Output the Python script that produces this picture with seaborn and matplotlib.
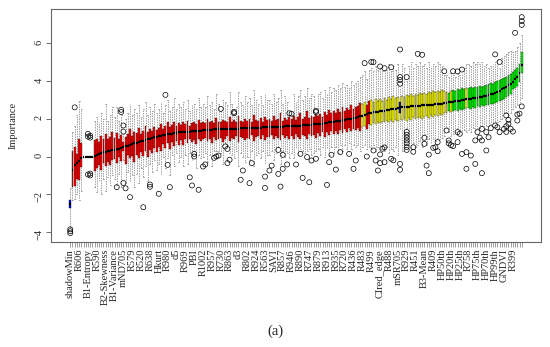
import numpy as np
import pandas as pd
import matplotlib
matplotlib.use("Agg")
import matplotlib.pyplot as plt
import seaborn as sns

# Boruta importance per feature (sorted by median)
med = [-2.5,
       -0.7, -0.45, -0.35, -0.25, -0.1,
       0, 0, 0, 0, 0,
       0.05, 0.1, 0.14, 0.18, 0.22, 0.25, 0.28, 0.31, 0.34,
       0.36, 0.38, 0.42, 0.46, 0.5, 0.54, 0.58, 0.62, 0.66, 0.7,
       0.73, 0.76, 0.8, 0.84, 0.88, 0.91, 0.95, 0.98, 1.01, 1.04,
       1.07, 1.1, 1.13, 1.15, 1.17, 1.19, 1.21, 1.23, 1.25, 1.27,
       1.28, 1.29, 1.3, 1.31, 1.32, 1.33, 1.34, 1.35, 1.36, 1.37,
       1.38, 1.39, 1.4, 1.41, 1.42, 1.43, 1.43, 1.44, 1.44, 1.45,
       1.45, 1.46, 1.46, 1.47, 1.47, 1.48, 1.48, 1.49, 1.49, 1.5,
       1.5, 1.51, 1.51, 1.52, 1.52, 1.53, 1.53, 1.54, 1.54, 1.55,
       1.55, 1.56, 1.56, 1.57, 1.57, 1.58, 1.58, 1.59, 1.6, 1.6,
       1.61, 1.62, 1.62, 1.63, 1.64, 1.65, 1.66, 1.67, 1.68, 1.69,
       1.7, 1.71, 1.72, 1.73, 1.74, 1.76, 1.78, 1.8, 1.82, 1.84,
       1.86, 1.88, 1.9, 1.92, 1.94, 1.96, 1.98, 2.0, 2.02, 2.05,
       2.08, 2.12, 2.16, 2.2, 2.24, 2.28, 2.31, 2.33, 2.35, 2.37,
       2.39, 2.41, 2.43, 2.45, 2.47, 2.49, 2.51, 2.53, 2.55, 2.6,
       2.61, 2.62, 2.63, 2.64, 2.65, 2.66, 2.67, 2.68, 2.69, 2.7,
       2.71, 2.72, 2.73, 2.74, 2.75, 2.76, 2.77, 2.78, 2.8, 2.82,
       2.84, 2.86, 2.88, 2.9, 2.92, 2.94, 2.96, 2.98, 3.0, 3.02,
       3.04, 3.06, 3.08, 3.1, 3.12, 3.14, 3.16, 3.18, 3.21, 3.24,
       3.28, 3.32, 3.37, 3.42, 3.48, 3.55, 3.62, 3.7, 3.78, 3.86,
       3.96, 4.08, 4.22, 4.4, 4.85]

q1 = [-2.72,
      -1.6, -1.55, -1.2, -1.25, -0.55,
      0, 0, 0, 0, 0,
      -0.75, -0.6, -0.45, -0.7, -0.35, -0.5, -0.3, -0.45, -0.2,
      -0.15, -0.35, 0.0, -0.25, 0.3, -0.4, 0.1, -0.1, 0.05, -0.3,
      0.1, -0.1, 0.25, 0.05, 0.3, -0.05, 0.35, 0.2, 0.45, 0.25,
      0.5, 0.3, 0.65, 0.45, 0.7, 0.4, 0.75, 0.55, 0.8, 0.6,
      0.85, 0.6, 0.9, 0.7, 0.95, 0.75, 0.85, 0.65, 0.9, 0.8,
      0.9, 1.0, 0.8, 0.95, 0.7, 1.05, 0.85, 0.95, 1.0, 0.75,
      0.95, 1.1, 0.8, 1.0, 0.9, 1.1, 0.75, 1.05, 1.0, 0.85,
      1.0, 0.9, 1.15, 0.8, 1.05, 1.1, 0.95, 1.15, 0.85, 1.05,
      1.05, 1.15, 0.9, 1.1, 1.0, 0.85, 1.15, 1.0, 1.1, 0.95,
      1.1, 0.95, 1.2, 1.05, 0.9, 1.15, 1.1, 0.95, 1.2, 1.1,
      1.15, 1.0, 1.25, 1.1, 1.3, 1.05, 1.3, 1.15, 1.35, 1.2,
      1.35, 1.2, 1.4, 1.25, 1.45, 1.3, 1.5, 1.35, 1.45, 1.4,
      1.5, 1.35, 1.55, 1.6, 1.45, 1.7, 1.65, 1.75, 1.7, 1.8,
      1.75, 1.85, 1.8, 1.9, 1.8, 1.95, 1.85, 1.95, 1.9, 2.3,
      1.95, 2.0, 1.9, 2.05, 1.95, 2.1, 2.0, 2.05, 2.1, 2.0,
      2.1, 2.15, 2.05, 2.2, 2.1, 2.2, 2.15, 2.25, 2.2, 2.3,
      2.3, 2.4, 2.35, 2.4, 2.45, 2.4, 2.5, 2.45, 2.5, 2.55,
      2.55, 2.5, 2.6, 2.55, 2.65, 2.6, 2.7, 2.65, 2.7, 2.75,
      2.8, 2.8, 2.85, 2.9, 2.95, 3.0, 3.05, 3.15, 3.2, 3.3,
      3.55, 3.6, 3.75, 3.95, 4.4]

q3 = [-2.3,
      0.3, 0.5, 0.15, 0.9, 0.7,
      0, 0, 0, 0, 0,
      0.85, 0.9, 0.75, 1.1, 0.95, 1.2, 0.9, 1.05, 1.3,
      1.0, 1.25, 0.95, 1.15, 0.75, 1.05, 1.2, 1.45, 1.1, 1.3,
      1.25, 1.5, 1.2, 1.35, 1.6, 1.3, 1.45, 1.35, 1.55, 1.4,
      1.5, 1.7, 1.45, 1.6, 1.8, 1.55, 1.65, 1.85, 1.6, 1.75,
      1.65, 1.8, 1.7, 1.9, 1.6, 1.75, 1.85, 1.7, 1.95, 1.75,
      1.85, 1.75, 2.0, 1.8, 1.9, 1.75, 2.05, 1.85, 1.8, 1.95,
      1.9, 1.8, 2.1, 1.85, 1.95, 1.8, 2.15, 1.9, 1.85, 2.0,
      1.9, 2.0, 1.85, 2.2, 1.95, 1.9, 2.05, 1.85, 2.1, 1.95,
      2.0, 1.9, 2.15, 1.95, 2.0, 2.3, 1.9, 2.05, 1.95, 2.1,
      2.0, 2.15, 1.95, 2.1, 2.3, 2.0, 2.1, 2.4, 2.05, 2.15,
      2.1, 2.2, 2.15, 2.25, 2.1, 2.35, 2.2, 2.45, 2.3, 2.4,
      2.3, 2.5, 2.35, 2.6, 2.4, 2.55, 2.45, 2.7, 2.5, 2.6,
      2.65, 2.85, 2.8, 2.9, 2.75, 2.95, 3.0, 2.9, 3.05, 2.95,
      3.05, 2.95, 3.1, 3.0, 3.15, 3.05, 3.2, 3.1, 3.15, 2.9,
      3.2, 3.15, 3.25, 3.2, 3.3, 3.2, 3.3, 3.25, 3.35, 3.3,
      3.35, 3.3, 3.4, 3.35, 3.45, 3.4, 3.45, 3.4, 3.5, 3.45,
      3.4, 3.35, 3.45, 3.5, 3.45, 3.55, 3.5, 3.6, 3.55, 3.6,
      3.6, 3.65, 3.6, 3.7, 3.65, 3.75, 3.7, 3.75, 3.8, 3.85,
      3.9, 3.85, 3.95, 4.0, 4.05, 4.1, 4.15, 4.2, 4.3, 4.35,
      4.45, 4.55, 4.7, 4.9, 5.5]

lo = [-3.75,
      -2.3, -2.25, -2.0, -2.3, -1.8,
      0, 0, 0, 0, 0,
      -1.6, -1.9, -1.3, -2.0, -1.2, -1.8, -1.1, -1.5, -1.0,
      -1.2, -1.5, -0.9, -1.6, -0.2, -1.4, -0.8, -1.3, -1.0, -1.6,
      -0.9, -1.4, -0.6, -1.1, -0.5, -1.3, -0.4, -0.8, -0.2, -0.7,
      -0.4, -0.9, 0.0, -0.6, -0.1, -1.0, 0.1, -0.5, 0.2, -0.3,
      0.0, -0.5, 0.1, -0.4, 0.2, -0.2, 0.3, -0.6, 0.1, -0.1,
      0.0, 0.2, -0.3, 0.1, -0.5, 0.3, 0.3, 0.3, 0.2, -0.4,
      0.7, 0.6, 0.2, 0.1, -0.1, 0.3, -0.5, 0.2, 0.0, -0.3,
      0.0, -0.2, 0.3, -0.5, 0.1, 0.2, -0.1, 0.3, -0.4, 0.1,
      0.1, 0.3, -0.2, 0.2, 0.5, -0.4, 0.3, 0.0, 0.2, -0.1,
      0.2, -0.1, 0.4, 0.1, 0.4, 0.3, 0.2, 0.3, 0.4, 0.1,
      0.2, 0.3, 0.4, 0.1, 0.5, 0.0, 0.4, 0.1, 0.5, 0.2,
      0.5, 0.2, 0.6, 0.3, 0.6, 0.4, 0.7, 0.4, 0.6, 0.5,
      0.6, 0.3, 0.5, 0.6, 0.4, 0.5, 0.4, 0.6, 0.3, 0.5,
      0.4, 0.6, 0.3, 0.5, 0.2, 0.4, 0.3, 0.5, 0.1, 1.4,
      0.3, 0.5, 1.5, 0.6, 0.4, 0.7, 0.5, 0.6, 0.8, 0.5,
      1.2, 0.6, 0.9, 0.7, 0.9, 0.8, 1.0, 0.9, 1.0, 1.1,
      1.5, 1.3, 1.1, 1.2, 1.3, 1.5, 1.4, 1.3, 1.4, 1.3,
      1.4, 1.3, 1.5, 1.4, 1.5, 1.5, 1.6, 1.5, 1.6, 1.6,
      1.7, 1.7, 1.8, 1.8, 1.9, 2.0, 2.3, 2.3, 2.2, 2.3,
      2.5, 2.6, 2.7, 2.8, 3.1]

hi = [-1.65,
      1.3, 1.6, 2.2, 2.95, 2.5,
      0, 0, 0, 0, 0,
      1.9, 2.1, 1.8, 2.3, 2.0, 2.8, 1.9, 2.2, 2.6,
      2.1, 2.6, 1.9, 2.2, 1.2, 2.0, 2.3, 2.8, 2.2, 2.5,
      2.3, 2.7, 2.1, 2.5, 2.9, 2.2, 2.6, 2.4, 2.8, 2.3,
      2.5, 2.9, 2.3, 2.7, 3.0, 2.4, 2.6, 3.1, 2.5, 2.8,
      2.6, 2.9, 2.5, 3.0, 2.4, 2.7, 2.8, 2.5, 3.1, 2.6,
      2.8, 2.6, 3.2, 2.7, 2.9, 2.5, 3.3, 2.8, 2.4, 3.0,
      2.9, 2.7, 3.4, 2.8, 2.2, 2.6, 3.4, 2.9, 2.7, 3.2,
      2.9, 3.1, 2.7, 3.5, 3.0, 2.8, 3.2, 2.7, 3.3, 3.0,
      3.0, 2.8, 3.3, 2.9, 3.1, 3.5, 2.8, 3.2, 2.9, 2.2,
      2.2, 3.3, 2.9, 3.2, 3.5, 3.0, 3.2, 3.6, 3.1, 3.3,
      3.2, 2.3, 3.3, 3.4, 3.1, 3.5, 3.3, 3.7, 3.4, 3.6,
      3.5, 3.8, 3.6, 3.9, 3.7, 3.8, 3.6, 4.0, 3.8, 3.9,
      4.0, 4.2, 4.3, 4.5, 4.1, 4.6, 4.7, 4.5, 4.8, 4.6,
      4.7, 4.5, 4.5, 4.6, 4.9, 4.5, 4.8, 4.6, 4.9, 3.7,
      4.9, 4.7, 4.0, 4.8, 5.0, 4.7, 4.9, 4.8, 5.0, 4.8,
      4.9, 4.7, 5.0, 4.8, 4.9, 4.8, 5.0, 4.9, 4.8, 4.3,
      4.3, 4.2, 4.4, 4.3, 4.2, 4.4, 4.3, 4.4, 4.7, 4.9,
      4.9, 4.8, 5.0, 4.9, 5.0, 4.9, 5.0, 4.8, 4.9, 4.7,
      4.8, 4.9, 5.0, 5.1, 4.7, 5.2, 5.3, 5.4, 5.5, 5.6,
      5.5, 5.6, 5.8, 6.0, 6.4]

# Boruta decision, as runs along the sorted features
decision_runs = [("Shadow", 1), ("Rejected", 131), ("Tentative", 2), ("Rejected", 2),
                 ("Tentative", 13), ("Shadow", 1), ("Tentative", 21), ("Confirmed", 1),
                 ("Tentative", 1), ("Confirmed", 6), ("Tentative", 1), ("Confirmed", 25)]

# outliers: (feature number, importance)
outliers = [(1, -3.85), (1, -3.95), (1, -4.05), (3, 2.6),
            (9, 1.05), (9, 1.2), (10, 1.1), (10, 1.0), (9, -0.95), (10, -1.0), (10, -0.9),
            (22, -1.62), (24, 2.47), (24, 2.35), (25, 1.32), (25, 1.64), (25, -1.4), (26, -1.68),
            (28, -2.15), (34, -2.68), (37, -1.48), (37, -1.6), (41, -1.97), (44, 3.26), (45, -0.44),
            (46, -1.62), (55, -1.1), (56, -1.53), (57, 0.14), (57, 0.0), (59, -1.76), (61, -0.53),
            (62, -0.42), (66, -0.07), (67, 0.0), (68, 0.05),
            (69, 2.52), (75, 2.29), (75, 2.36), (71, 0.53), (72, 0.4), (73, -0.17), (72, -0.35),
            (79, -0.74), (78, -1.23), (82, -1.41), (83, -0.35), (89, -1.66), (89, -1.06), (91, -0.74),
            (92, -0.48), (95, 0.35), (97, 0.09), (96, -1.59), (95, -0.92), (97, -0.65), (99, -0.42),
            (101, 2.26), (100, 2.29), (103, -0.42), (105, 0.14), (106, -1.13), (108, -0.03),
            (109, -1.36), (110, -0.21), (112, 2.35), (112, 2.42), (112, -0.12), (117, -1.5),
            (118, -0.3), (119, 0.09), (121, -0.69), (123, 0.23), (127, 0.14), (129, -0.65), (130, -0.21),
            (134, 4.94), (138, 4.99), (135, 0.0), (140, -0.74), (139, -0.21), (138, 0.32), (137, 5.0),
            (141, 4.76), (143, 4.67), (146, 4.72), (150, 5.66), (150, 4.2), (150, 4.05), (150, 3.85),
            (153, 4.2), (158, 5.43), (160, 5.38),
            (142, 0.41), (141, 0.11), (143, -0.3), (143, 0.48), (141, -0.35), (146, -0.12), (147, -0.2),
            (150, -0.39), (150, -0.7),
            (153, 1.3), (153, 1.15), (153, 1.0), (153, 0.85), (153, 0.7), (153, 0.5), (153, 0.35),
            (156, 0.49), (156, 0.25), (161, 0.99), (161, 0.67), (162, -0.48), (163, 0.1), (163, -0.88),
            (165, 0.46), (166, 0.49), (167, 0.76), (167, 0.28),
            (170, 4.51), (174, 4.51), (176, 4.5), (178, 4.6),
            (171, 1.38), (172, 0.85), (172, 0.7), (173, 0.6), (174, 0.55), (176, 1.29), (176, 0.76),
            (177, 1.2), (178, 0.14), (180, 0.23), (180, -0.65), (182, 0.05), (184, -0.39), (187, -0.88),
            (184, 0.85), (185, 1.29), (186, 1.0), (187, 0.85), (187, 1.46), (189, 0.32), (189, 1.29),
            (190, 1.02), (191, 1.5), (193, 1.64), (194, 1.55), (195, 1.29), (197, 1.46), (198, 2.17),
            (198, 1.6), (198, 1.3), (199, 1.73), (199, 1.94), (200, 1.46),
            (193, 5.4), (195, 5.0), (202, 6.54), (205, 7.37), (205, 7.16), (205, 6.96),
            (205, 2.65), (204, 2.27), (203, 1.9), (201, 1.32), (203, 2.22)]

# only every 4th feature name fits under the axis
shown_labels = ["shadowMin", "R606", "B1-Entropy", "R590", "B2-Skewness", "B1-Variance", "mND705",
                "R579", "R520", "R638", "Hkurt", "R980", "d5", "R969", "PBI", "R1002", "R957",
                "R730", "R863", "d3", "R802", "R924", "R563", "SAVI", "R857", "R946", "R890",
                "R747", "R879", "R913", "R935", "R720", "R436", "R483", "R499", "CIred_edge",
                "R488", "mSR705", "R929", "R451", "B3-Mean", "R409", "HP50th", "HP20th", "HP25th",
                "R758", "HP75th", "HP70th", "HP99th", "GNDVI", "R399"]

colour_of = {"Shadow": "#0000FF", "Rejected": "#FF0000", "Tentative": "#FFFF00", "Confirmed": "#00FF00"}

n = len(med)
decision = []
for name, k in decision_runs:
    decision += [name] * k

# rebuild a sample per feature that has exactly these quartiles / extremes
rows = []
for i in range(n):
    vals = [lo[i]] + [q1[i]] * 20 + [med[i]] * 20 + [q3[i]] * 20 + [hi[i]]
    for v in vals:
        rows.append((i, v))
df = pd.DataFrame(rows, columns=["feature", "importance"])
palette = {i: colour_of[decision[i]] for i in range(n)}

sns.set_theme(style="white")
plt.rcParams["font.family"] = ["Liberation Serif", "DejaVu Serif"]

fig, ax = plt.subplots(figsize=(5.5, 3.47), dpi=100)
fig.subplots_adjust(left=51 / 550, right=541 / 550, bottom=1 - 242 / 347, top=1 - 9 / 347)

sns.boxplot(data=df, x="feature", y="importance", hue="feature", palette=palette, legend=False,
            saturation=1, whis=(0, 100), showfliers=False, width=0.85, linewidth=0.25,
            linecolor="black",
            medianprops=dict(color="black", linewidth=1.6),
            whiskerprops=dict(color="#777777", linewidth=0.5, linestyle=(0, (2, 1.5))),
            capprops=dict(color="#777777", linewidth=0.5), ax=ax)

ox = [p[0] - 1 for p in outliers]
oy = [p[1] for p in outliers]
ax.scatter(ox, oy, s=13, facecolors="none", edgecolors="black", linewidths=0.5, zorder=4)

ax.set_xlim(-0.5 - 0.04 * n, n - 0.5 + 0.04 * n)
ax.set_ylim(-4.52, 7.8)

tick_text = [""] * n
for j, lab in enumerate(shown_labels):
    tick_text[4 * j] = lab
ax.set_xticks(range(n))
ax.set_xticklabels(tick_text, rotation=90, fontsize=7.5)
ax.set_yticks([-4, -2, 0, 2, 4, 6])
ax.tick_params(axis="x", bottom=True, length=3.5, width=0.4, color="#555555", pad=1.5)
ax.tick_params(axis="y", left=True, length=3.5, width=0.6, color="#555555", pad=2,
               labelsize=7.5, labelrotation=90)
ax.set_xlabel("")
ax.set_ylabel("Importance", fontsize=7.5)
ax.yaxis.set_label_coords(-0.068, 0.5)

for sp in ax.spines.values():
    sp.set_color("#666666")
    sp.set_linewidth(0.8)

fig.text(0.5, 0.046, "(a)", ha="center", va="center", fontsize=10.5)

plt.savefig("out.png", dpi=100)
